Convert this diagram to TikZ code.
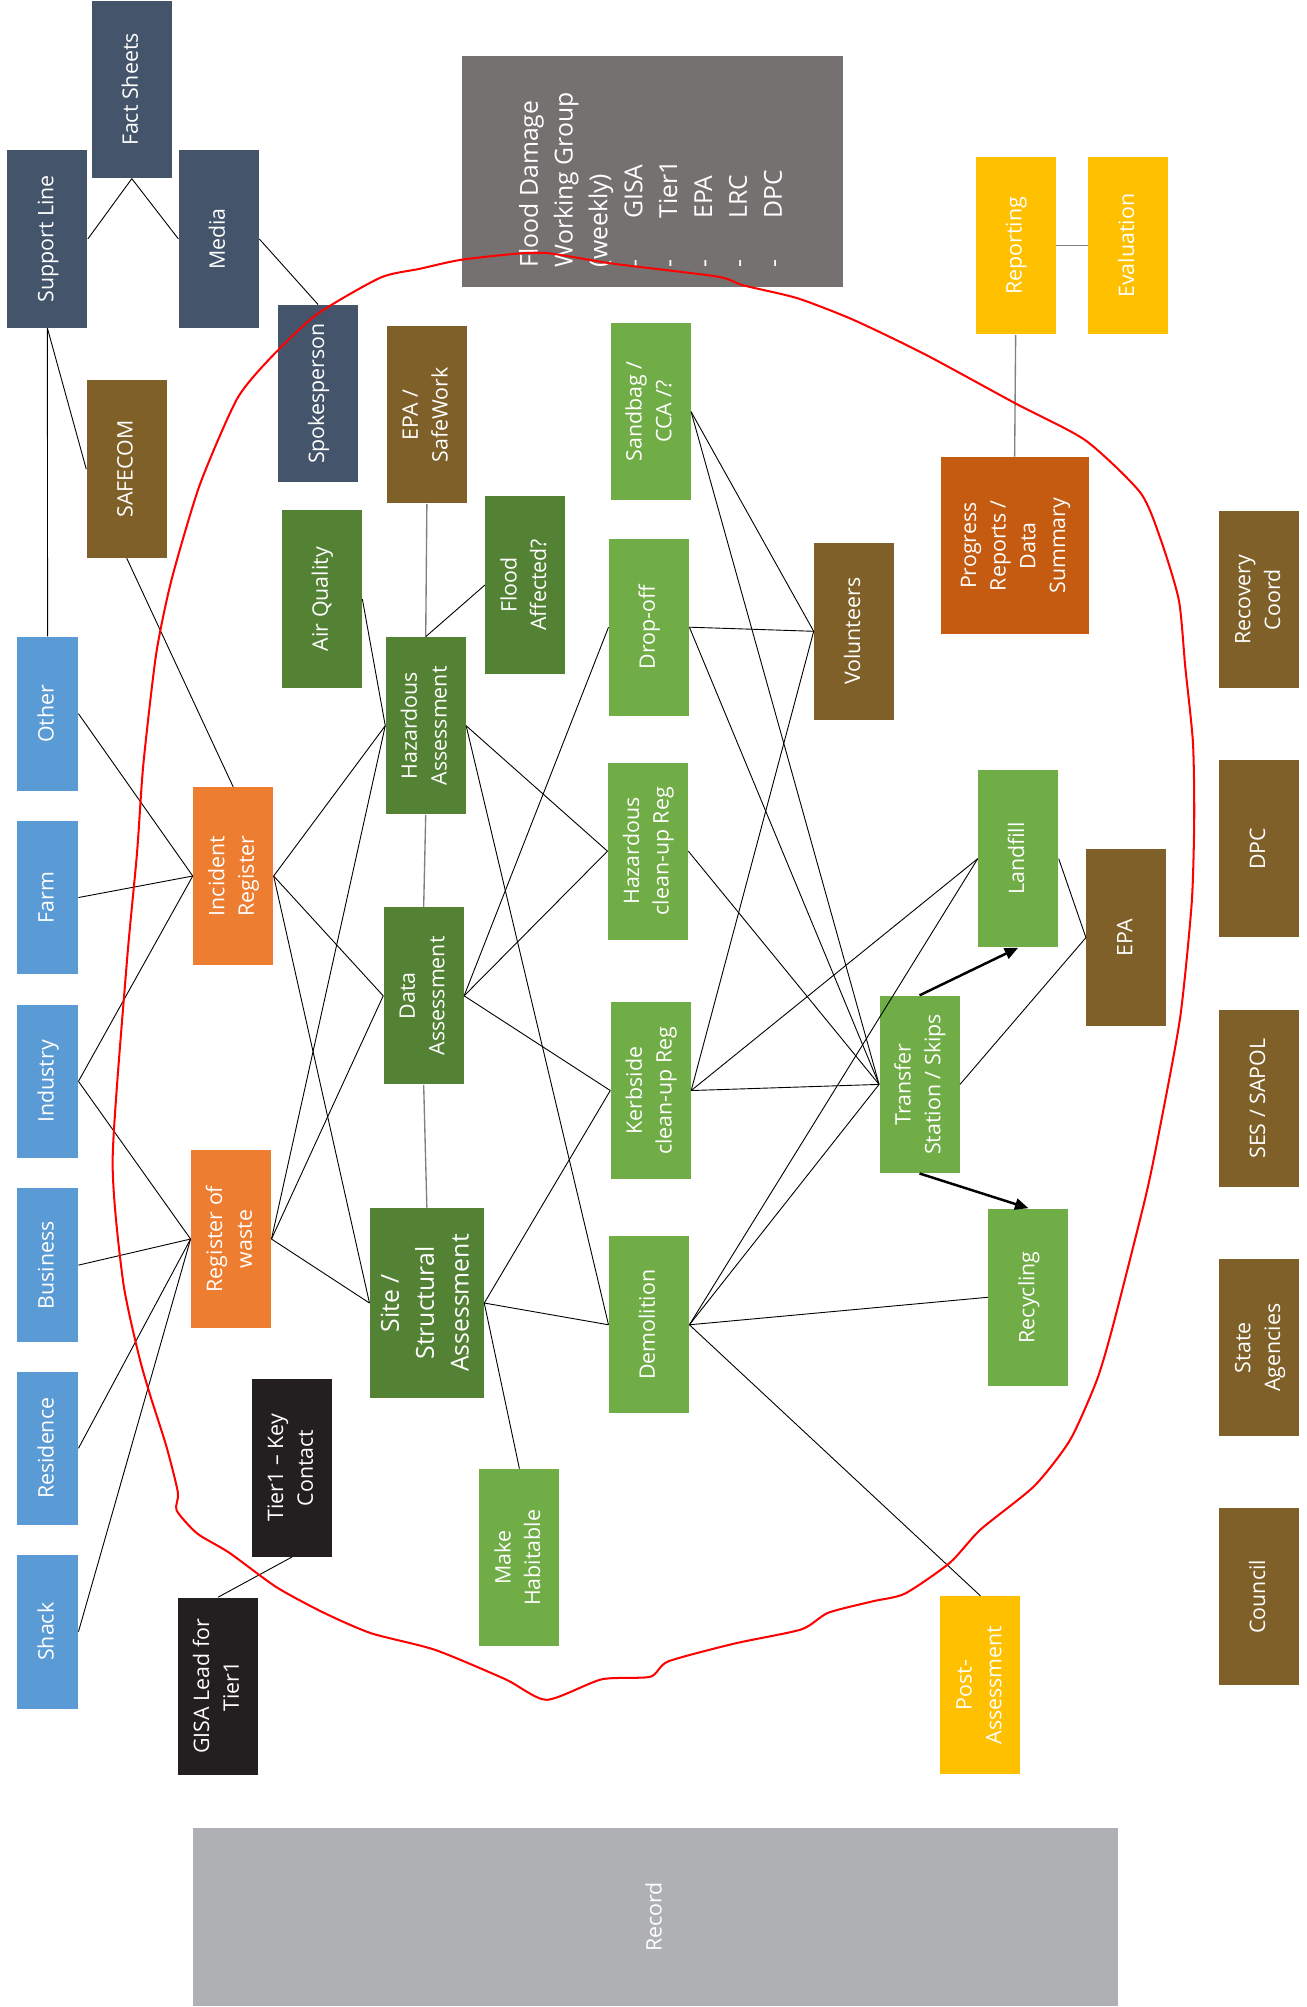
\documentclass[tikz,border=0pt]{standalone}
\usepackage{fontspec}
\setmainfont{Open Sans}
\usepackage{graphicx}
\usepackage{xcolor}
\usepackage{tikz}
\usetikzlibrary{arrows.meta}
\definecolor{officeslate}{RGB}{68, 84, 106}
\definecolor{officebrown}{RGB}{127, 96, 40}
\definecolor{officegray}{RGB}{118, 113, 113}
\definecolor{officegold}{RGB}{255, 192, 0}
\definecolor{darkgreen}{RGB}{84, 130, 53}
\definecolor{lightgreen}{RGB}{112, 173, 71}
\definecolor{officeorange}{RGB}{237, 125, 49}
\definecolor{rust}{RGB}{197, 90, 17}
\definecolor{officeblue}{RGB}{91, 155, 213}
\definecolor{nearblack}{RGB}{35, 31, 32}
\definecolor{recordgray}{RGB}{175, 176, 180}

% text turned to read upwards
\newcommand{\uptxt}[1]{\rotatebox{90}{\begin{tabular}{@{}c@{}}#1\end{tabular}}}

\tikzset{
    box/.style={rectangle, inner sep=0pt, text=white, minimum width=1.25cm, minimum height=2.77cm, font=\fontsize{9.5}{13.2}\selectfont},
    sourcebox/.style={box, fill=officeblue, minimum width=0.95cm, minimum height=2.4cm},
    agencybox/.style={box, fill=officebrown},
    wire/.style={black, line width=0.4pt},
    greywire/.style={gray, line width=0.6pt},
    flowarrow/.style={black, line width=1.1pt, -{Triangle[length=6pt, width=5pt]}}
}

\begin{document}
\begin{tikzpicture}[x=0.02cm, y=-0.02cm]
    \useasboundingbox (0,0) rectangle (1021,1568);

    % Communications
    \node[box, fill=officeslate] (factsheets) at (103,70) {\uptxt{Fact Sheets}};
    \node[box, fill=officeslate] (supportline) at (37,186.7) {\uptxt{Support Line}};
    \node[box, fill=officeslate] (media) at (171,186.7) {\uptxt{Media}};
    \node[box, fill=officeslate] (spokesperson) at (248.5,307.5) {\uptxt{Spokesperson}};
    \node[box, fill=officebrown] (safecom) at (99,366.5) {\uptxt{SAFECOM}};

    % Working group
    \node[box, fill=officegray, minimum width=5.95cm, minimum height=3.61cm, font=\fontsize{11}{15.5}\selectfont] (floodgroup) at (510,133.75)
        {\rotatebox{90}{\begin{tabular}{@{}l@{\hspace{0.27cm}}}Flood Damage\\Working Group\\(weekly)\\\makebox[0.76cm][l]{-}GISA\\\makebox[0.76cm][l]{-}Tier1\\\makebox[0.76cm][l]{-}EPA\\\makebox[0.76cm][l]{-}LRC\\\makebox[0.76cm][l]{-}DPC\end{tabular}}};

    % Reporting
    \node[box, fill=officegold] (reporting) at (793.5,192) {\uptxt{Reporting}};
    \node[box, fill=officegold] (evaluation) at (881.5,192) {\uptxt{Evaluation}};
    \node[box, fill=rust, minimum width=2.31cm] (progress) at (792.7,426.3) {\uptxt{Progress\\Reports /\\Data\\Summary}};

    % Sources
    \node[sourcebox] (other) at (37.2,557.6) {\uptxt{Other}};
    \node[sourcebox] (farm) at (37.2,701.2) {\uptxt{Farm}};
    \node[sourcebox] (industry) at (37.2,844.8) {\uptxt{Industry}};
    \node[sourcebox] (business) at (37.2,988.4) {\uptxt{Business}};
    \node[sourcebox] (residence) at (37.2,1131.5) {\uptxt{Residence}};
    \node[sourcebox] (shack) at (37.2,1274.8) {\uptxt{Shack}};

    % Registers
    \node[box, fill=officeorange] (incident) at (182.2,684.4) {\uptxt{Incident\\Register}};
    \node[box, fill=officeorange] (regwaste) at (180.5,968) {\uptxt{Register of\\waste}};
    \node[box, fill=nearblack] (tierkey) at (228.2,1146.8) {\uptxt{Tier1 -- Key\\Contact}};
    \node[box, fill=nearblack] (gisalead) at (170.4,1317.4) {\uptxt{GISA Lead for\\Tier1}};

    % Assessments
    \node[box, fill=officebrown] (epasafe) at (333.5,324) {\uptxt{EPA /\\SafeWork}};
    \node[box, fill=darkgreen] (airquality) at (251.5,468) {\uptxt{Air Quality}};
    \node[box, fill=darkgreen] (floodaff) at (410.5,457) {\uptxt{Flood\\Affected?}};
    \node[box, fill=darkgreen] (hazassess) at (332.6,567) {\uptxt{Hazardous\\Assessment}};
    \node[box, fill=darkgreen] (dataassess) at (331,778) {\uptxt{Data\\Assessment}};
    \node[box, fill=darkgreen, minimum width=1.78cm, minimum height=2.97cm, font=\fontsize{11}{15.5}\selectfont] (siteassess) at (333.5,1018) {\uptxt{Site /\\Structural\\Assessment}};
    \node[box, fill=lightgreen] (makehab) at (405.8,1217) {\uptxt{Make\\Habitable}};

    % Clean-up
    \node[box, fill=lightgreen] (sandbag) at (508.3,321.6) {\uptxt{Sandbag /\\CCA /?}};
    \node[box, fill=lightgreen] (dropoff) at (507,490) {\uptxt{Drop-off}};
    \node[box, fill=lightgreen] (hazclean) at (506.2,665) {\uptxt{Hazardous\\clean-up Reg}};
    \node[box, fill=lightgreen] (kerbside) at (508.4,852) {\uptxt{Kerbside\\clean-up Reg}};
    \node[box, fill=lightgreen] (demolition) at (507,1035) {\uptxt{Demolition}};
    \node[box, fill=officebrown] (volunteers) at (667.3,493.2) {\uptxt{Volunteers}};

    % Disposal
    \node[box, fill=lightgreen] (transfer) at (718.4,847.2) {\uptxt{Transfer\\Station / Skips}};
    \node[box, fill=lightgreen] (landfill) at (795.5,670.8) {\uptxt{Landfill}};
    \node[box, fill=lightgreen] (recycling) at (803.5,1013.5) {\uptxt{Recycling}};
    \node[box, fill=officebrown] (epa) at (880,732.5) {\uptxt{EPA}};
    \node[box, fill=officegold] (postassess) at (766,1316.4) {\uptxt{Post-\\Assessment}};

    % Agencies
    \node[agencybox] (recovery) at (983.8,468.6) {\uptxt{Recovery\\Coord}};
    \node[agencybox] (dpc) at (983.8,663.1) {\uptxt{DPC}};
    \node[agencybox] (sessapol) at (983.8,858.3) {\uptxt{SES / SAPOL}};
    \node[agencybox] (stateag) at (983.8,1052.9) {\uptxt{State\\Agencies}};
    \node[agencybox] (council) at (983.8,1247.5) {\uptxt{Council}};

    % Record
    \node[box, fill=recordgray, minimum width=14.45cm] (record) at (512.3,1497.7) {\uptxt{Record}};

    % Links
    \draw[wire] (factsheets.south) -- (supportline.east);
    \draw[wire] (factsheets.south) -- (media.west);
    \draw[wire] (media.east) -- (spokesperson.north);
    \draw[wire] (supportline.south) -- (other.north);
    \draw[wire] (supportline.south) -- (safecom.west);
    \draw[wire] (safecom.south) -- (incident.north);

    \draw[wire] (other.east) -- (incident.west);
    \draw[wire] (farm.east) -- (incident.west);
    \draw[wire] (industry.east) -- (incident.west);
    \draw[wire] (industry.east) -- (regwaste.west);
    \draw[wire] (business.east) -- (regwaste.west);
    \draw[wire] (residence.east) -- (regwaste.west);
    \draw[wire] (shack.east) -- (regwaste.west);

    \draw[wire] (incident.east) -- (hazassess.west);
    \draw[wire] (incident.east) -- (dataassess.west);
    \draw[wire] (incident.east) -- (siteassess.west);
    \draw[wire] (regwaste.east) -- (hazassess.west);
    \draw[wire] (regwaste.east) -- (dataassess.west);
    \draw[wire] (regwaste.east) -- (siteassess.west);
    \draw[wire] (tierkey.south) -- (gisalead.north);

    \draw[wire] (airquality.east) -- (hazassess.west);
    \draw[greywire] (epasafe.south) -- (hazassess.north);
    \draw[wire] (floodaff.west) -- (hazassess.north);
    \draw[greywire] (hazassess.south) -- (dataassess.north);
    \draw[greywire] (dataassess.south) -- (siteassess.north);

    \draw[wire] (hazassess.east) -- (hazclean.west);
    \draw[wire] (hazassess.east) -- (demolition.west);
    \draw[wire] (dataassess.east) -- (dropoff.west);
    \draw[wire] (dataassess.east) -- (hazclean.west);
    \draw[wire] (dataassess.east) -- (kerbside.west);
    \draw[wire] (siteassess.east) -- (kerbside.west);
    \draw[wire] (siteassess.east) -- (demolition.west);
    \draw[wire] (siteassess.east) -- (makehab.north);

    \draw[wire] (sandbag.east) -- (volunteers.west);
    \draw[wire] (sandbag.east) -- (transfer.west);
    \draw[wire] (dropoff.east) -- (volunteers.west);
    \draw[wire] (dropoff.east) -- (transfer.west);
    \draw[wire] (hazclean.east) -- (transfer.west);
    \draw[wire] (kerbside.east) -- (volunteers.west);
    \draw[wire] (kerbside.east) -- (landfill.west);
    \draw[wire] (kerbside.east) -- (transfer.west);
    \draw[wire] (demolition.east) -- (landfill.west);
    \draw[wire] (demolition.east) -- (transfer.west);
    \draw[wire] (demolition.east) -- (recycling.west);
    \draw[wire] (demolition.east) -- (postassess.north);

    \draw[flowarrow] (transfer.north) -- (landfill.south);
    \draw[flowarrow] (transfer.south) -- (recycling.north);
    \draw[wire] (landfill.east) -- (epa.west);
    \draw[wire] (transfer.east) -- (epa.west);

    \draw[greywire] (progress.north) -- (reporting.south);
    \draw[greywire] (reporting.east) -- (evaluation.west);

    % Hand-drawn boundary
    \draw[red, line width=0.9pt] plot[smooth cycle, tension=0.4] coordinates {
        (328,210) (360,203) (406,198) (430,198) (479,206) (560,216) (581,223) (623,233)
        (667,250) (723,277) (793,315) (848,344) (891,385) (907,422) (921,469) (926,521)
        (932,580) (933,640) (931,706) (922,795) (906,882) (895,935) (870,1034) (857,1078)
        (836,1125) (808,1161) (766,1195) (742,1221) (707,1245) (682,1251) (647,1260) (626,1273)
        (574,1284) (522,1298) (508,1310) (470,1312) (427,1328) (395,1312) (340,1289) (290,1276)
        (253,1260) (216,1240) (179,1213) (154,1198) (138,1180) (139,1166) (130,1130) (117,1089)
        (108,1057) (96,1000) (88,906) (99,753) (107,667) (112,597) (122,511) (134,453)
        (156,379) (185,312) (211,280) (247,246) (297,217)};
\end{tikzpicture}
\end{document}
